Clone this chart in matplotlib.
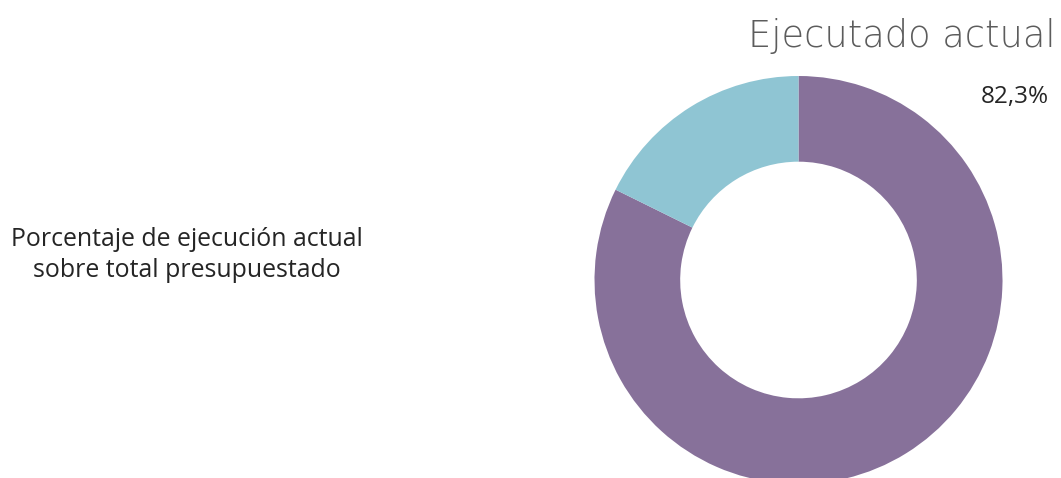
import matplotlib.pyplot as plt

W, H = 1061, 478

labels = ["Ejecutado", "Pendiente"]
values = [82.3, 17.7]
colors = ["#87719A", "#8FC5D3"]
title = "Ejecutado actual"
side_text = "Porcentaje de ejecución actual\nsobre total presupuestado"

fig = plt.figure(figsize=(W / 100, H / 100), dpi=100)

# donut placed by pixel position: center (798, 280), radius 204
cx, cy, r = 798.5, 280, 204
ax = fig.add_axes([(cx - r) / W, (H - cy - r) / H, 2 * r / W, 2 * r / H])
ax.pie(values, colors=colors, startangle=90, counterclock=False,
       radius=1, wedgeprops=dict(width=0.42, linewidth=0))
ax.set_xlim(-1, 1)
ax.set_ylim(-1, 1)
ax.axis("off")

fig.text(1056 / W, 1 - 36 / H, title, ha="right", va="center",
         fontsize=26.5, color="#5c5c5c", family="DejaVu Sans", fontweight="light")
fig.text(1049 / W, 1 - 97 / H, f"{values[0]:.1f}%".replace(".", ","),
         ha="right", va="center", fontsize=17.5, color="#252525", family="Open Sans")
fig.text(187 / W, 1 - 255 / H, side_text, ha="center", va="center",
         fontsize=17.9, color="#252525", family="Open Sans", linespacing=1.3)

fig.savefig("out.png", dpi=100)
